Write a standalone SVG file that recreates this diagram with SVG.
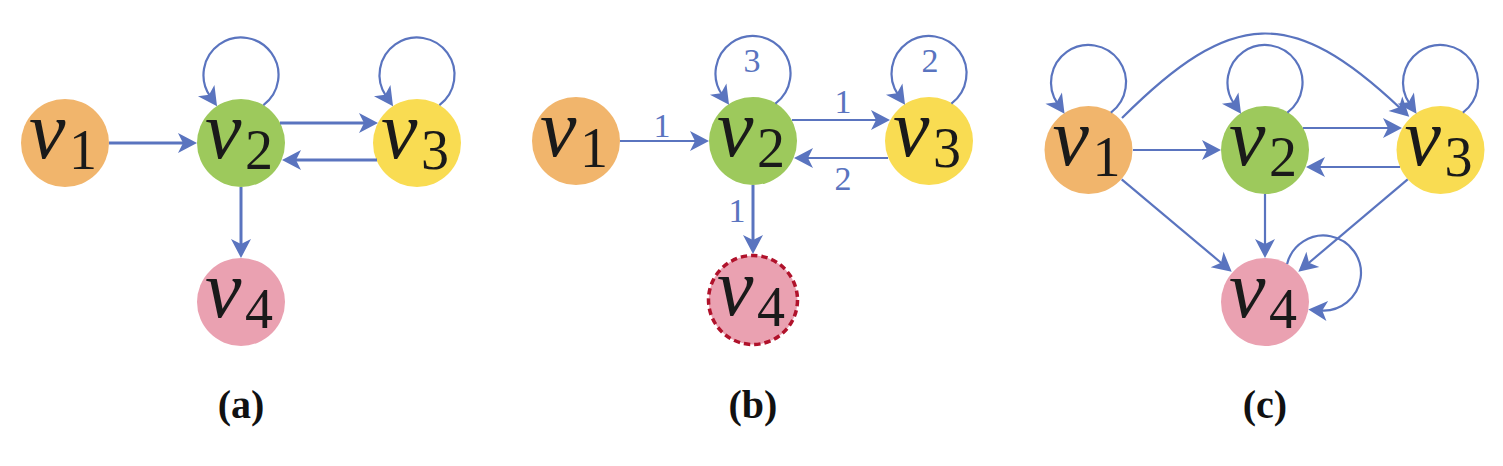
<svg xmlns="http://www.w3.org/2000/svg" width="1503" height="466" viewBox="0 0 1503 466">
<style>
.bg{fill:#ffffff}
.n1{fill:#f1b56c}
.n2{fill:#9dc95c}
.n3{fill:#f9dc52}
.n4{fill:#eaa1b1}
.dash{stroke:#b0122b;stroke-width:3.5;stroke-dasharray:6.4 3.97}
.lbl{fill:#1a1a1a}
.var{font-style:italic;font-size:82px}
.sub{font-style:normal;font-size:56px}
.e{fill:none;stroke:#5a74bf}
.t3{stroke-width:3}
.t2{stroke-width:2.2}
.w{font-size:34px;fill:#5a74bf;text-anchor:middle}
.cap{font-weight:bold;font-size:40px;fill:#111;text-anchor:middle}
</style>
<defs>
<marker id="arr" markerUnits="userSpaceOnUse" markerWidth="40" markerHeight="40" refX="0" refY="0" orient="auto" overflow="visible">
<path d="M12,0 L-7,-10 L-2,0 L-7,10 Z" fill="#5a74bf"/>
</marker>
</defs>
<rect class="bg" x="0" y="0" width="1503" height="466"/>

<g font-family="'Liberation Serif', 'Times New Roman', serif">
<!-- panel a nodes -->
<g id="a-v1"><circle class="n1" cx="65" cy="143" r="44"/><text class="lbl"><tspan class="var" x="29" y="158">v</tspan><tspan class="sub" x="69" y="169">1</tspan></text></g>
<g id="a-v2"><circle class="n2" cx="241" cy="143" r="44"/><text class="lbl"><tspan class="var" x="205" y="158">v</tspan><tspan class="sub" x="245" y="169">2</tspan></text></g>
<g id="a-v3"><circle class="n3" cx="417" cy="143" r="44"/><text class="lbl"><tspan class="var" x="381" y="158">v</tspan><tspan class="sub" x="421" y="169">3</tspan></text></g>
<g id="a-v4"><circle class="n4" cx="241" cy="302" r="44"/><text class="lbl"><tspan class="var" x="205" y="317">v</tspan><tspan class="sub" x="245" y="328">4</tspan></text></g>

<!-- panel b nodes -->
<g id="b-v1"><circle class="n1" cx="576" cy="141" r="44"/><text class="lbl"><tspan class="var" x="540" y="156">v</tspan><tspan class="sub" x="580" y="167">1</tspan></text></g>
<g id="b-v2"><circle class="n2" cx="753" cy="141" r="44"/><text class="lbl"><tspan class="var" x="717" y="156">v</tspan><tspan class="sub" x="757" y="167">2</tspan></text></g>
<g id="b-v3"><circle class="n3" cx="929" cy="141" r="44"/><text class="lbl"><tspan class="var" x="893" y="156">v</tspan><tspan class="sub" x="933" y="167">3</tspan></text></g>
<g id="b-v4"><circle class="n4 dash" cx="753" cy="300" r="44.5"/><text class="lbl"><tspan class="var" x="717" y="315">v</tspan><tspan class="sub" x="757" y="326">4</tspan></text></g>

<!-- panel c nodes -->
<g id="c-v1"><circle class="n1" cx="1088.5" cy="150" r="44"/><text class="lbl"><tspan class="var" x="1052.5" y="165">v</tspan><tspan class="sub" x="1092.5" y="176">1</tspan></text></g>
<g id="c-v2"><circle class="n2" cx="1265" cy="150" r="44"/><text class="lbl"><tspan class="var" x="1229" y="165">v</tspan><tspan class="sub" x="1269" y="176">2</tspan></text></g>
<g id="c-v3"><circle class="n3" cx="1440.5" cy="150" r="44"/><text class="lbl"><tspan class="var" x="1404.5" y="165">v</tspan><tspan class="sub" x="1444.5" y="176">3</tspan></text></g>
<g id="c-v4"><circle class="n4" cx="1265" cy="302" r="44"/><text class="lbl"><tspan class="var" x="1229" y="317">v</tspan><tspan class="sub" x="1269" y="328">4</tspan></text></g>

<g id="connectors" marker-end="url(#arr)">
<!-- panel a -->
<path class="e t3" d="M109,143 L185,143"/>
<path class="e t3" d="M280,123 L366,123"/>
<path class="e t3" d="M377,160 L294,160"/>
<path class="e t3" d="M241,187 L241,246"/>
<path class="e t2" d="M263.4,105.1 A37.5 37.5 0 1 0 210.2,96.4"/>
<path class="e t2" d="M439.4,105.1 A37.5 37.5 0 1 0 386.2,96.4"/>
<!-- panel b -->
<path class="e t2" d="M620,141 L697,141"/>
<path class="e t2" d="M792,120 L878,120"/>
<path class="e t2" d="M888,158 L806,158"/>
<path class="e t3" d="M753,185 L753,242"/>
<path class="e t2" d="M775.4,103.6 A37.5 37.5 0 1 0 722.2,94.9"/>
<path class="e t2" d="M951.4,103.6 A37.5 37.5 0 1 0 898.2,94.9"/>
<!-- panel c -->
<path class="e t2" d="M1133,150 L1209,150"/>
<path class="e t2" d="M1303,128 L1390,128"/>
<path class="e t2" d="M1400,167 L1318,167"/>
<path class="e t2" d="M1265,194 L1265,246"/>
<path class="e t2" d="M1121.7,179.3 L1222.5,264"/>
<path class="e t2" d="M1407.7,179.3 L1307.5,264"/>
<path class="e t2" d="M1122,118 C1232,8 1292,6 1400.5,108.5"/>
<path class="e t2" d="M1110.9,112.6 A37.5 37.5 0 1 0 1057.7,103.9"/>
<path class="e t2" d="M1287.4,112.6 A37.5 37.5 0 1 0 1234.2,103.9"/>
<path class="e t2" d="M1462.9,112.6 A37.5 37.5 0 1 0 1409.7,103.9"/>
<path class="e t2" d="M1287.1,263.9 A37.5 37.5 0 1 1 1320.3,310.4"/>
</g>

<g id="edge-labels">
<text class="w" x="662" y="137">1</text>
<text class="w" x="843" y="113">1</text>
<text class="w" x="843" y="190">2</text>
<text class="w" x="737" y="222">1</text>
<text class="w" x="752" y="72">3</text>
<text class="w" x="930" y="72">2</text>
</g>

<g id="captions">
<text class="cap" x="241" y="418">(a)</text>
<text class="cap" x="753" y="418">(b)</text>
<text class="cap" x="1265" y="418">(c)</text>
</g>
</g>
</svg>
